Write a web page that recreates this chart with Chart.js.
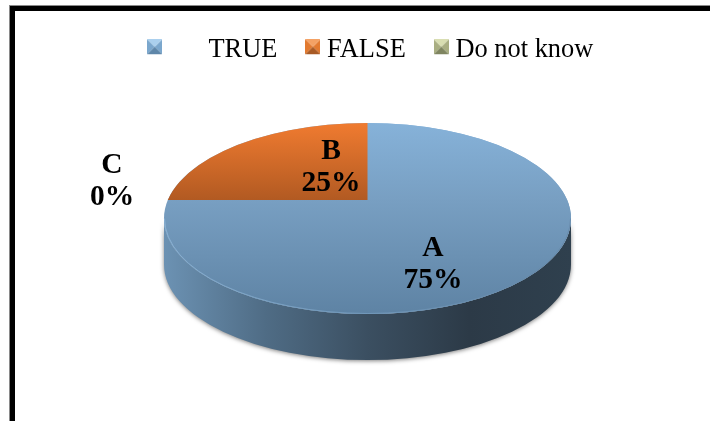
<!DOCTYPE html>
<html>
<head>
<meta charset="utf-8">
<style>
  html, body { margin: 0; padding: 0; background: #fff; }
  #wrap { position: relative; width: 710px; height: 421px; overflow: hidden; }
  #frame {
    position: absolute; left: 10px; top: 6px; width: 720px; height: 440px;
    border-left: 5px solid #000; border-top: 5px solid #000;
    box-shadow: -1px -1px 0 #8a8a8a;
  }
  #pie { position: absolute; left: 0; top: 0; }
</style>
</head>
<body>
<div id="wrap">
  <div id="frame"></div>
  <canvas id="pie" width="710" height="421"></canvas>
</div>
<script src="https://cdn.jsdelivr.net/npm/chart.js@4/dist/chart.umd.js"></script>
<script>
// --- Data ---
const categories = ['TRUE', 'FALSE', 'Do not know'];
const letters = ['A', 'B', 'C'];
const values = [75, 25, 0];

// --- Look of the fake 3D pie ---
const pie3d = { cx: 367.5, cy: 218.5, rx: 203.5, ry: 95.5, depth: 46, wedgeCut: 0.194 };
const labelSpots = [[433, 248], [331, 151], [112, 165]];
const LABEL_LINE = 32;
const FONT = '"Liberation Serif", "Times New Roman", serif';
const TRUE_GAP = '      ';

// bevelled legend squares, canvas is taller than the square so it sits above the text middle
function makeMarker(top, side, bottom) {
    const c = document.createElement('canvas');
    c.width = 15; c.height = 21;
    const g = c.getContext('2d');
    const tri = (color, pts) => {
        g.fillStyle = color;
        g.beginPath();
        g.moveTo(pts[0], pts[1]);
        g.lineTo(pts[2], pts[3]);
        g.lineTo(7.5, 7.5);
        g.closePath();
        g.fill();
    };
    tri(side, [0, 0, 0, 15]);
    tri(side, [15, 0, 15, 15]);
    tri(top, [0, 0, 15, 0]);
    tri(bottom, [0, 15, 15, 15]);
    return c;
}
const markers = [
    makeMarker('#abd0ee', '#7ba7cd', '#5e86a9'),
    makeMarker('#f4a265', '#e27a30', '#a85a25'),
    makeMarker('#d9deb2', '#a9ae82', '#7f8560')
];

function faceColor(ctx) {
    const area = ctx.chart.chartArea;
    if (!area) return '#7aa1c4';
    const mid = (area.top + area.bottom) / 2;
    const R = Math.min(area.width, area.height) / 2;
    const grad = ctx.chart.ctx.createLinearGradient(0, mid - R, 0, mid + R);
    if (ctx.dataIndex === 1) {
        grad.addColorStop(0, '#f07b30');
        grad.addColorStop(0.4, '#b25a22');
        grad.addColorStop(1, '#b25a22');
    } else if (ctx.dataIndex === 2) {
        grad.addColorStop(0, '#c3c89a');
        grad.addColorStop(1, '#8a8f68');
    } else {
        grad.addColorStop(0, '#86b2d9');
        grad.addColorStop(0.4, '#789fc2');
        grad.addColorStop(1, '#5e83a4');
    }
    return grad;
}

// squash the library's round arcs into the tilted disc, with a side wall under it
const tiltPlugin = {
    id: 'tilt',
    beforeDatasetsDraw(chart) {
        const ctx = chart.ctx;
        const arcs = chart.getDatasetMeta(0).data;
        const first = arcs[0];
        const R = first.outerRadius;
        const p = pie3d;

        ctx.save();
        const wall = ctx.createLinearGradient(p.cx - p.rx, 0, p.cx + p.rx, 0);
        wall.addColorStop(0, '#6c92b3');
        wall.addColorStop(0.25, '#4f6c85');
        wall.addColorStop(0.5, '#3b4f61');
        wall.addColorStop(0.75, '#2c3a47');
        wall.addColorStop(1, '#2f404e');
        ctx.shadowColor = 'rgba(0,0,0,0.5)';
        ctx.shadowBlur = 4;
        ctx.shadowOffsetY = 1;
        ctx.fillStyle = wall;
        ctx.beginPath();
        ctx.ellipse(p.cx, p.cy + p.depth, p.rx, p.ry, 0, 0, Math.PI);
        ctx.ellipse(p.cx, p.cy, p.rx, p.ry, 0, Math.PI, 0, true);
        ctx.closePath();
        ctx.fill();
        ctx.restore();

        const toFace = () => {
            ctx.translate(p.cx, p.cy);
            ctx.scale(p.rx / R, p.ry / R);
            ctx.translate(-first.x, -first.y);
        };

        // base of the disc in the first slice's colour
        ctx.save();
        toFace();
        ctx.fillStyle = first.options.backgroundColor;
        ctx.beginPath();
        ctx.arc(first.x, first.y, R, 0, Math.PI * 2);
        ctx.fill();
        ctx.restore();

        arcs.forEach((arc, i) => {
            ctx.save();
            toFace();
            if (i === 1) {
                ctx.beginPath();
                ctx.rect(first.x - R, first.y - R, 2 * R, R * (1 - p.wedgeCut));
                ctx.clip();
            }
            arc.draw(ctx);
            ctx.restore();
        });

        // thin lit rim on the front edge of the disc
        ctx.save();
        const rim = ctx.createLinearGradient(p.cx - p.rx, 0, p.cx + p.rx, 0);
        rim.addColorStop(0, 'rgba(150,190,225,0.7)');
        rim.addColorStop(0.6, 'rgba(130,170,205,0.45)');
        rim.addColorStop(1, 'rgba(90,120,150,0.4)');
        ctx.strokeStyle = rim;
        ctx.lineWidth = 1;
        ctx.beginPath();
        ctx.ellipse(p.cx, p.cy, p.rx - 0.5, p.ry - 0.5, 0, 0, Math.PI);
        ctx.stroke();
        ctx.restore();

        return false;
    },
    afterDraw(chart) {
        const ctx = chart.ctx;
        ctx.save();
        ctx.fillStyle = '#000';
        ctx.textAlign = 'center';
        ctx.textBaseline = 'middle';
        ctx.font = 'bold 29.5px ' + FONT;
        values.forEach((v, i) => {
            const [x, y] = labelSpots[i];
            ctx.fillText(letters[i], x, y);
            ctx.fillText(v + '%', x, y + LABEL_LINE);
        });
        ctx.restore();
    }
};

new Chart(document.getElementById('pie').getContext('2d'), {
    type: 'pie',
    data: {
        labels: categories,
        datasets: [{
            data: values,
            backgroundColor: faceColor,
            borderWidth: 0
        }]
    },
    options: {
        responsive: false,
        animation: false,
        layout: { padding: { left: 37, top: 2 } },
        plugins: {
            tooltip: { enabled: false },
            legend: {
                position: 'top',
                labels: {
                    usePointStyle: true,
                    boxWidth: 2,
                    padding: 34.5,
                    color: '#000',
                    font: { family: FONT, size: 26.4 },
                    generateLabels: chart => chart.data.labels.map((t, i) => ({
                        text: (i === 0 ? TRUE_GAP : '') + t,
                        pointStyle: markers[i],
                        fontColor: '#000',
                        lineWidth: 0,
                        index: i
                    }))
                }
            }
        }
    },
    plugins: [tiltPlugin]
});
</script>
</body>
</html>
